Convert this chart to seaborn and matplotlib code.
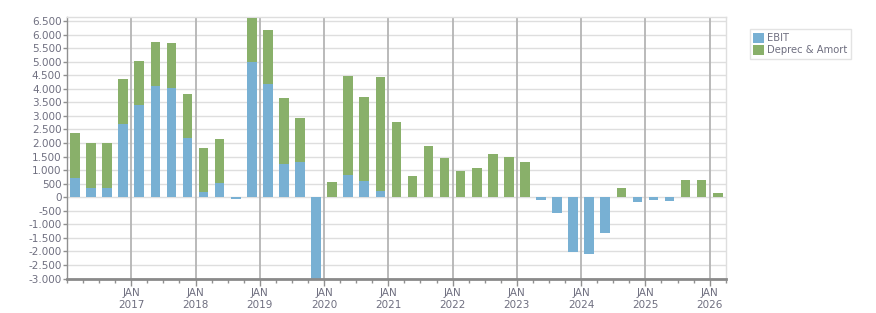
import numpy as np
import pandas as pd
import matplotlib
matplotlib.use("Agg")
import matplotlib.pyplot as plt
from matplotlib.ticker import FixedLocator, FuncFormatter
from matplotlib.patches import Patch
import seaborn as sns

# Quarterly data, Q1 2016 .. Q1 2026
quarters = pd.period_range("2016Q1", "2026Q1", freq="Q").astype(str).tolist()
ebit = [710, 350, 350, 2700, 3400, 4100, 4030, 2190, 200, 510, -60, 5000,
        4180, 1230, 1300, -3010, 15, 810, 590, 220, 15, 15, 15, 15,
        15, 15, 15, 15, 15, -100, -580, -2020, -2100, -1320, 15, -170,
        -100, -150, 15, 15, 15]
deprec = [1660, 1650, 1650, 1660, 1620, 1630, 1670, 1610, 1610, 1640, 25, 1620,
          1990, 2430, 1620, 25, 540, 3660, 3110, 4220, 2760, 765, 1875, 1425,
          945, 1055, 1575, 1465, 1275, 25, 25, 25, 25, 25, 315, 25,
          25, 25, 615, 615, 135]
year_labels = [f"JAN\n{y}" for y in range(2017, 2027)]

blue = "#78b0d3"
green = "#89b06a"
txt = "#6f6f80"

df = pd.DataFrame({"quarter": quarters, "ebit": ebit, "deprec": deprec})
df["stack_top"] = df["ebit"].clip(lower=0) + df["deprec"]

sns.set_style("white")
fig = plt.figure(figsize=(8.76, 3.13), dpi=100)
ax = fig.add_axes([0.0765, 0.110, 0.752, 0.835])

sns.barplot(data=df, x="quarter", y="stack_top", order=quarters, color=green,
            saturation=1, width=0.6, linewidth=0, edgecolor="none", ax=ax, zorder=3)
sns.barplot(data=df, x="quarter", y="ebit", order=quarters, color=blue,
            saturation=1, width=0.6, linewidth=0, edgecolor="none", ax=ax, zorder=3)

ax.set_xlim(-0.5, len(quarters) - 0.5)
ax.set_ylim(-3000, 6640)
ax.set_xlabel("")
ax.set_ylabel("")

# y axis
ax.yaxis.set_major_locator(FixedLocator(np.arange(-3000, 6501, 500)))
ax.yaxis.set_major_formatter(FuncFormatter(lambda v, p: f"{v:,.0f}".replace(",", ".")))
ax.grid(axis="y", color="#dedede", linewidth=1, zorder=0)

# x axis: january lines + quarter minor ticks
jan_pos = [3.5 + 4 * k for k in range(len(year_labels))]
ax.xaxis.set_major_locator(FixedLocator(jan_pos))
ax.set_xticklabels(year_labels)
ax.xaxis.set_minor_locator(FixedLocator(np.arange(-0.5, len(quarters), 1.0)))
for x in jan_pos:
    ax.axvline(x, color="#b4b4b4", linewidth=1.3, zorder=1)

ax.tick_params(axis="x", which="major", length=5, width=1, color="#909090",
               labelsize=7.5, labelcolor=txt, pad=2)
ax.tick_params(axis="x", which="minor", length=3, width=1, color="#909090")
ax.tick_params(axis="y", length=3, width=1, color="#909090", labelsize=7.5,
               labelcolor=txt, pad=1)
ax.tick_params(bottom=True, left=True, which="both")

for s in ["top", "right"]:
    ax.spines[s].set_color("#dedede")
    ax.spines[s].set_linewidth(1)
ax.spines["left"].set_color("#909090")
ax.spines["left"].set_linewidth(1)
ax.spines["bottom"].set_color("#8a8a8a")
ax.spines["bottom"].set_linewidth(2)
ax.spines["bottom"].set_zorder(5)

handles = [Patch(facecolor=blue, edgecolor="none", label="EBIT"),
           Patch(facecolor=green, edgecolor="none", label="Deprec & Amort")]
leg = fig.legend(handles=handles, loc="upper left", bbox_to_anchor=(0.856, 0.906),
                 fontsize=7.2, frameon=True, fancybox=False, handlelength=1.1,
                 handleheight=1.1, handletextpad=0.3, borderpad=0.35,
                 labelspacing=0.2, borderaxespad=0)
leg.get_frame().set_edgecolor("#dddddd")
leg.get_frame().set_linewidth(1)
for t in leg.get_texts():
    t.set_color(txt)

fig.savefig("out.png", dpi=100)
